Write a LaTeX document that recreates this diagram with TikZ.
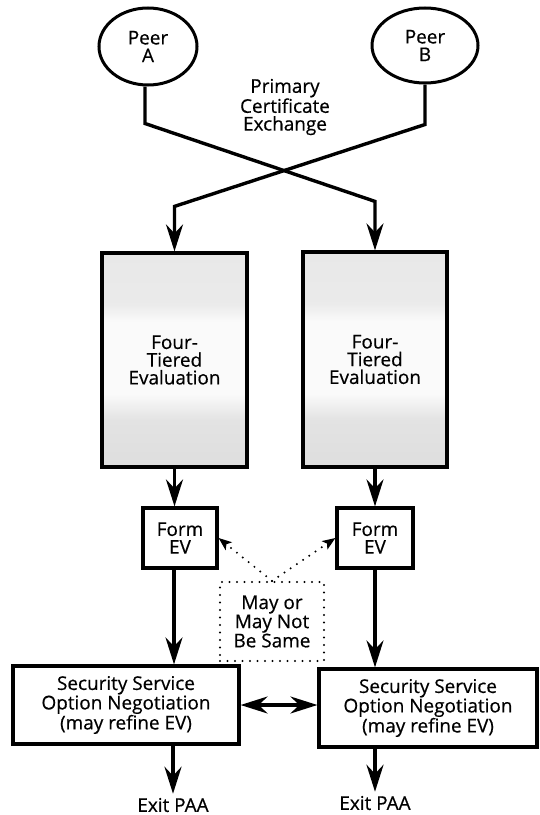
\documentclass[tikz,border=0pt]{standalone}
\usepackage{fontspec}
\setmainfont{Open Sans}[FakeBold=0.5]
\usetikzlibrary{arrows.meta,shapes.geometric}

% stippled grey of the evaluation boxes: darker below, pale band in the middle
\pgfdeclareverticalshading{evalfill}{100bp}{%
  color(0bp)=(black!13); color(25bp)=(black!13); color(36bp)=(black!11);
  color(42bp)=(black!2); color(59bp)=(black!2); color(63bp)=(black!8);
  color(75bp)=(black!9); color(100bp)=(black!9)}

\begin{document}
\begin{tikzpicture}[x=1bp,y=-1bp,
  every node/.style={font=\fontsize{19}{17.8}\selectfont, align=center, inner sep=0pt},
  box/.style={draw, rectangle, line width=3.2bp},
  evalbox/.style={box, shade, shading=evalfill},
  peer/.style={draw, ellipse, line width=3bp},
  flow/.style={line width=3.4bp, line join=miter},
  tip/.tip={Stealth[length=27bp,width=17bp,inset=9bp]},
  arr/.style={flow, -tip},
  dbl/.style={flow, tip-tip},
  dots/.style={line width=2.2bp, dash pattern=on 0pt off 7.5bp, line cap=round},
  dotarr/.style={dots, -{Stealth[length=13bp,width=10bp,inset=3bp]}},
  exit/.style={inner sep=4bp},
]
\useasboundingbox (0,0) rectangle (540,815);

% peers and the exchange label
\node[peer, minimum width=98bp, minimum height=77bp] (pa) at (148,46.5) {Peer\\A};
\node[peer, minimum width=106bp, minimum height=75bp] (pb) at (425,45.5) {Peer\\B};
\node (pce) at (285,107) {Primary\\Certificate\\Exchange};

% evaluation stage
\node[evalbox, minimum width=145bp, minimum height=214bp] (ftA) at (174.5,360) {Four-\\Tiered\\Evaluation};
\node[evalbox, minimum width=144bp, minimum height=215bp] (ftB) at (375,359.5) {Four-\\Tiered\\Evaluation};

% EV formation
\node[box, minimum width=74bp, minimum height=60bp] (fA) at (180,538) {Form\\EV};
\node[box, minimum width=76bp, minimum height=60bp] (fB) at (375,538) {Form\\EV};
\node[dots, draw, minimum width=104bp, minimum height=79bp] (may) at (272,621.5) {May or\\May Not\\Be Same};

% option negotiation
\node[box, minimum width=226bp, minimum height=78bp] (ssA) at (126,705) {Security Service\\Option Negotiation\\(may refine EV)};
\node[box, minimum width=218bp, minimum height=78bp] (ssB) at (428,708) {Security Service\\Option Negotiation\\(may refine EV)};

\node[exit] (exA) at (173,805) {Exit PAA};
\node[exit] (exB) at (375,803) {Exit PAA};

% crossed certificate exchange
\draw[arr] ([xshift=-3bp]pa.south) -- ++(0,37) -- ([yshift=49bp]ftB.north) -- (ftB.north);
\draw[arr] (pb.south) -- ++(0,40) -- ([yshift=45bp]ftA.north) -- (ftA.north);

% vertical flow
\draw[arr] (ftA.south) -- (ftA.south |- fA.north);
\draw[arr] (ftB.south) -- (fB.north);
\draw[arr] ([xshift=-6bp]fA.south) -- ([xshift=-6bp]fA.south |- ssA.north);
\draw[arr] (fB.south) -- (fB.south |- ssB.north);
\draw[arr] (ssA.south -| exA) -- (exA.north);
\draw[arr] (ssB.south -| exB) -- (exB.north);

% negotiation between peers
\draw[dbl] (ssA.east) -- (ssA.east -| ssB.west);

% note pointing at both EV boxes
\draw[dotarr] (may.north) -- (fA.east);
\draw[dotarr] (may.north) -- (fB.west);
\end{tikzpicture}
\end{document}
